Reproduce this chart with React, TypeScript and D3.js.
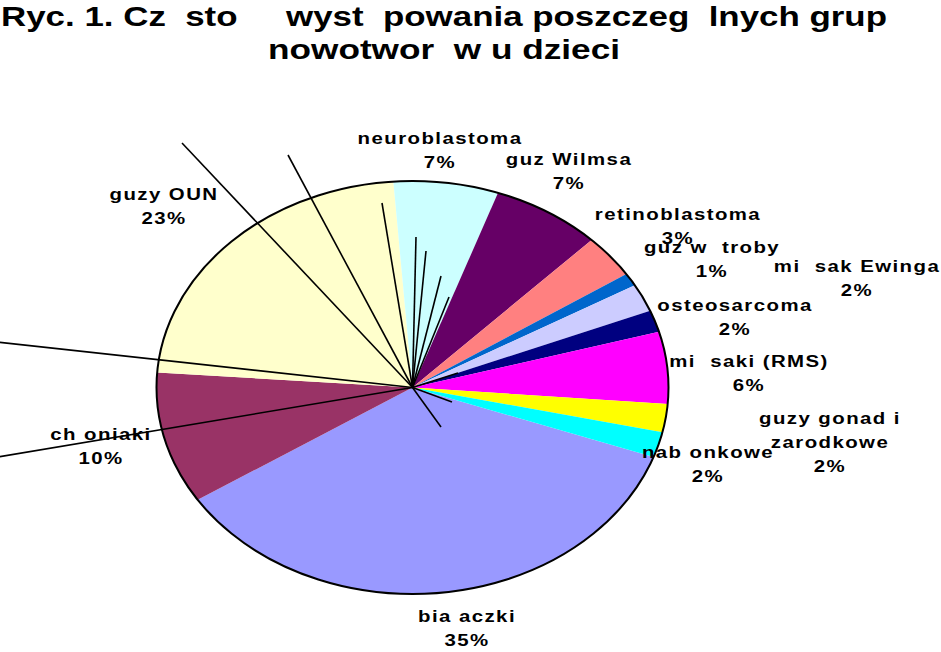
import React from "react";
import * as d3 from "d3";

const categories = [
  "bia\u00a0aczki",
  "ch\u00a0oniaki",
  "guzy OUN",
  "neuroblastoma",
  "guz Wilmsa",
  "retinoblastoma",
  "guz w\u00a0\u00a0troby",
  "mi\u00a0\u00a0sak Ewinga",
  "osteosarcoma",
  "mi\u00a0\u00a0saki (RMS)",
  "guzy gonad i|zarodkowe",
  "nab\u00a0onkowe",
];
const values = [35.3, 10.3, 22.6, 6.6, 6.9, 3.4, 1.0, 2.2, 1.7, 5.6, 2.2, 2.0];
const colors = [
  "#9999FF", "#993366", "#FFFFCC", "#CCFFFF", "#660066", "#FF8080",
  "#0066CC", "#CCCCFF", "#000080", "#FF00FF", "#FFFF00", "#00FFFF",
];
const titleLines = [
  "Ryc. 1. Cz\u00a0\u00a0sto\u00a0\u00a0\u00a0\u00a0\u00a0wyst\u00a0\u00a0powania poszczeg\u00a0\u00a0lnych grup",
  "nowotwor\u00a0\u00a0w u dzieci",
];

// layout: label anchor (center x, first baseline y)
const labelPos: [number, number][] = [
  [467, 622], [101, 440], [164, 200], [440, 144], [569, 165], [678, 220],
  [712, 253], [857, 272], [735, 311], [749, 367], [830, 424], [708, 458],
];
// leader lines from pie centre (dx, dy)
const leaderEnds: [number, number][] = [
  [28.5, 39.5], [-430, 72], [-230.5, -244.5], [-124.5, -232.5], [-430, -47],
  [-30.5, -184.5], [3.5, -150.5], [13.5, -136.5], [28.5, -111.5], [36.5, -90.5],
  [45.5, -14.5], [39.5, 14.5],
];

const W = 941, H = 652;
const cx = 412.5, cy = 387.5, rx = 256, ry = 206.5;
const startDeg = 109.7;

export default function App() {
  const total = d3.sum(values);
  const pie = d3.pie<number>().sort(null).value((d) => d)
    .startAngle((startDeg * Math.PI) / 180)
    .endAngle((startDeg * Math.PI) / 180 + 2 * Math.PI);
  const arcs = pie(values);
  const R = 100;
  const arcGen = d3.arc<d3.PieArcDatum<number>>().innerRadius(0).outerRadius(R);
  const font = "'Liberation Sans', Arial, sans-serif";
  const lineH = 24;
  const sx = 1.2;

  return (
    <svg width={W} height={H} style={{ position: "absolute", left: 0, top: 0, background: "#fff" }}>
      <g fontFamily={font} fontWeight="bold" fill="#000">
        <text x={1} y={26} fontSize={28} textLength={886} lengthAdjust="spacingAndGlyphs">{titleLines[0]}</text>
        <text x={268} y={59} fontSize={28} textLength={352} lengthAdjust="spacingAndGlyphs">{titleLines[1]}</text>
      </g>
      <g transform={`translate(${cx},${cy}) scale(${rx / R},${ry / R})`}>
        {arcs.map((a, i) => (
          <path key={i} d={arcGen(a) || ""} fill={colors[i]} />
        ))}
        <ellipse cx={0} cy={0} rx={R} ry={R} fill="none" stroke="#000" strokeWidth={2}
          vectorEffect="non-scaling-stroke" />
      </g>
      <g fontFamily={font} fontWeight="bold" fontSize={17} fill="#000" textAnchor="middle" letterSpacing={1.2}>
        {categories.map((c, i) => {
          const lines = c.split("|");
          lines.push(`${Math.round((values[i] / total) * 100)}%`);
          const [lx, ly] = labelPos[i];
          return (
            <text key={i} transform={`translate(${lx},${ly}) scale(${sx},1)`} x={0} y={0}>
              {lines.map((l, j) => (
                <tspan key={j} x={0} dy={j === 0 ? 0 : lineH}>{l}</tspan>
              ))}
            </text>
          );
        })}
      </g>
      <g stroke="#000" strokeWidth={1.6}>
        {leaderEnds.map(([dx, dy], i) => (
          <line key={i} x1={cx} y1={cy} x2={cx + dx} y2={cy + dy} />
        ))}
      </g>
    </svg>
  );
}
